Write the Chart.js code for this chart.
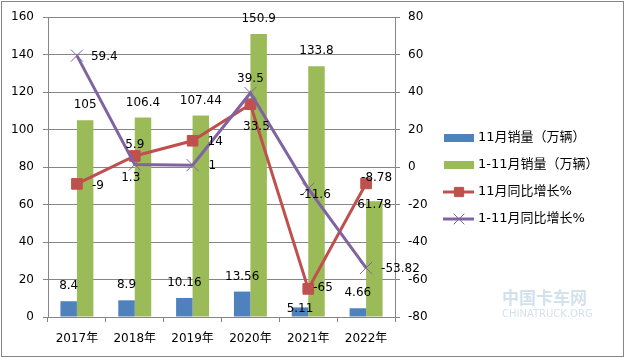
<!DOCTYPE html>
<html>
<head>
<meta charset="utf-8">
<script src="https://cdn.jsdelivr.net/npm/chart.js@4/dist/chart.umd.min.js"></script>
<style>
  html, body { margin: 0; padding: 0; background: #fff; }
  #wrap { width: 625px; height: 358px; }
</style>
</head>
<body>
<div id="wrap"><canvas id="salesChart" width="625" height="358"></canvas></div>
<script>
// Chart data
const years = ['2017年', '2018年', '2019年', '2020年', '2021年', '2022年'];
const novSales = [8.4, 8.9, 10.16, 13.56, 5.11, 4.66];          // 11月销量（万辆）
const ytdSales = [105, 106.4, 107.44, 150.9, 133.8, 61.78];     // 1-11月销量（万辆）
const novGrowth = [-9, 5.9, 14, 33.5, -65, -8.78];              // 11月同比增长%
const ytdGrowth = [59.4, 1.3, 1, 39.5, -11.6, -53.82];          // 1-11月同比增长%
const seriesNames = ['11月销量（万辆）', '1-11月销量（万辆）', '11月同比增长%', '1-11月同比增长%'];
const leftTicks = { min: 0, max: 160, step: 20 };
const rightTicks = { min: -80, max: 80, step: 20 };

const COLORS = {
  blue: '#4F81BD',
  green: '#9BBB59',
  red: '#C0504D',
  purple: '#8064A2',
  grid: '#868686'
};

const FONT = '"DejaVu Sans", "Noto Sans CJK SC", sans-serif';
Chart.defaults.font.family = FONT;
Chart.defaults.font.size = 12;
Chart.defaults.color = '#000';

// label placement tweaks, per dataset, per point: [dx, dy, align]
const labelPlacement = [
  [[0, -15, 'center'], [0, -15, 'center'], [0, -15, 'center'], [0, -15, 'center'], [0, 1, 'center'], [0, -15, 'center']],
  [[0, -15, 'center'], [0, -15, 'center'], [0, -15, 'center'], [0, -15, 'center'], [0, -15, 'center'], [0, 4, 'center']],
  [[15, 2, 'left'], [0, -11, 'center'], [15, 1, 'left'], [6, 23, 'center'], [5, -1, 'left'], [-5, -6, 'left']],
  [[14, 1, 'left'], [-4, 13, 'center'], [16, 1, 'left'], [0, -14, 'center'], [7, 6, 'center'], [15, 1, 'left']]
];

const valueLabels = {
  id: 'valueLabels',
  afterDatasetsDraw(chart) {
    const ctx = chart.ctx;
    ctx.save();
    ctx.font = '12px ' + FONT;
    ctx.fillStyle = '#000';
    ctx.textBaseline = 'middle';
    chart.data.datasets.forEach((ds, i) => {
      const meta = chart.getDatasetMeta(i);
      meta.data.forEach((el, j) => {
        const [dx, dy, align] = labelPlacement[i][j];
        ctx.textAlign = align;
        ctx.fillText(String(ds.data[j]), el.x + dx, el.y + dy);
      });
    });
    ctx.restore();
  }
};

// legend drawn at the right, like the original
const sideLegend = {
  id: 'sideLegend',
  afterDraw(chart) {
    const ctx = chart.ctx;
    const x0 = 444, x1 = 474, rows = [138, 165, 192, 219];
    ctx.save();
    ctx.font = '13px ' + FONT;
    ctx.textBaseline = 'middle';
    ctx.textAlign = 'left';
    rows.forEach((y, i) => {
      const ds = chart.data.datasets[i];
      if (ds.type === 'line') {
        ctx.strokeStyle = ds.borderColor;
        ctx.lineWidth = 3;
        ctx.beginPath();
        ctx.moveTo(x0 - 1, y);
        ctx.lineTo(x1, y);
        ctx.stroke();
        ctx.fillStyle = ds.pointBackgroundColor;
        ctx.strokeStyle = ds.pointBorderColor;
        ctx.lineWidth = ds.pointBorderWidth;
        Chart.helpers.drawPoint(ctx, {
          pointStyle: ds.pointStyle,
          radius: ds.pointRadius - 1,
          borderWidth: ds.pointBorderWidth
        }, (x0 + x1) / 2, y);
      } else {
        ctx.fillStyle = ds.backgroundColor;
        ctx.fillRect(x0, y - 4, x1 - x0, 8);
      }
      ctx.fillStyle = '#000';
      ctx.fillText(seriesNames[i], 478, y);
    });

    // faint site watermark
    ctx.fillStyle = 'rgba(130, 170, 200, 0.35)';
    ctx.font = 'bold 17px "Noto Sans CJK SC", sans-serif';
    ctx.fillText('中国卡车网', 502, 298);
    ctx.font = '10px ' + FONT;
    ctx.fillText('CHINATRUCK.ORG', 502, 314);

    // outer frame
    ctx.strokeStyle = COLORS.grid;
    ctx.lineWidth = 1;
    ctx.strokeRect(1.5, 1.5, 622, 355);
    ctx.restore();
  }
};

function renderSalesChart() {
  const el = document.getElementById('salesChart');
  if (!el) return;

  new Chart(el, {
    data: {
      labels: years,
      datasets: [
        {
          type: 'bar',
          label: seriesNames[0],
          data: novSales,
          backgroundColor: COLORS.blue,
          yAxisID: 'y',
          order: 2,
          barPercentage: 1,
          categoryPercentage: 0.57
        },
        {
          type: 'bar',
          label: seriesNames[1],
          data: ytdSales,
          backgroundColor: COLORS.green,
          yAxisID: 'y',
          order: 3,
          barPercentage: 1,
          categoryPercentage: 0.57
        },
        {
          type: 'line',
          label: seriesNames[2],
          data: novGrowth,
          borderColor: COLORS.red,
          borderWidth: 3,
          pointStyle: 'rect',
          pointRadius: 7.5,
          pointBorderWidth: 1,
          pointBackgroundColor: COLORS.red,
          pointBorderColor: COLORS.red,
          tension: 0,
          yAxisID: 'y1',
          order: 1
        },
        {
          type: 'line',
          label: seriesNames[3],
          data: ytdGrowth,
          borderColor: COLORS.purple,
          borderWidth: 3,
          pointStyle: 'crossRot',
          pointRadius: 8.5,
          pointBorderWidth: 1,
          pointBackgroundColor: COLORS.purple,
          pointBorderColor: COLORS.purple,
          tension: 0,
          yAxisID: 'y1',
          order: 0
        }
      ]
    },
    options: {
      responsive: false,
      animation: false,
      devicePixelRatio: 1,
      layout: {
        padding: { top: 17, left: 0, right: 190, bottom: 0 }
      },
      plugins: {
        legend: { display: false },
        tooltip: { enabled: false }
      },
      scales: {
        x: {
          type: 'category',
          offset: true,
          grid: {
            offset: true,
            drawOnChartArea: false,
            drawTicks: true,
            tickLength: 5,
            color: COLORS.grid
          },
          border: { color: COLORS.grid },
          ticks: { padding: 10, font: { size: 12 } },
          afterFit: s => { s.height = 41; }
        },
        y: {
          position: 'left',
          min: leftTicks.min,
          max: leftTicks.max,
          ticks: { stepSize: leftTicks.step, padding: 9 },
          grid: { color: COLORS.grid, tickLength: 5 },
          border: { color: COLORS.grid },
          afterFit: s => { s.width = 48; }
        },
        y1: {
          position: 'right',
          min: rightTicks.min,
          max: rightTicks.max,
          ticks: { stepSize: rightTicks.step, padding: 8 },
          grid: { drawOnChartArea: false, color: COLORS.grid, tickLength: 5 },
          border: { color: COLORS.grid },
          afterFit: s => { s.width = 40; }
        }
      }
    },
    plugins: [valueLabels, sideLegend]
  });
}

renderSalesChart();
</script>
</body>
</html>
